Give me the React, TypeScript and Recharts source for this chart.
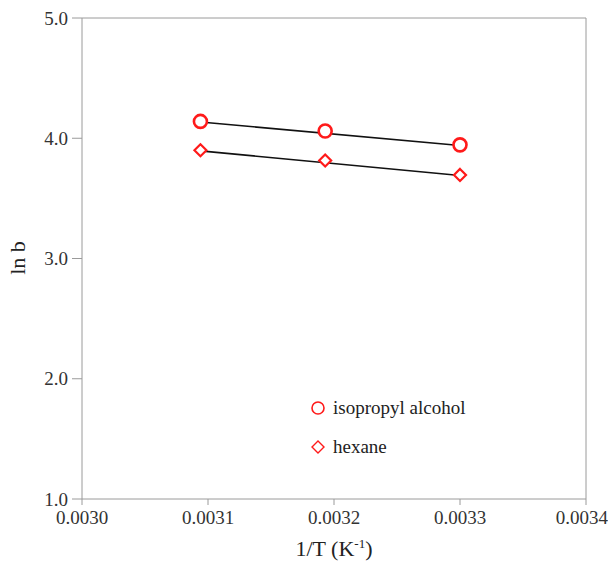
import { ScatterChart, Scatter, XAxis, YAxis, ReferenceLine } from 'recharts';

const invT = [0.003094, 0.003193, 0.0033];
const isopropylLnB = [4.14, 4.06, 3.945];
const hexaneLnB = [3.90, 3.815, 3.695];

// straight fitted lines, end points
const fitX = [0.003094, 0.0033];
const isopropylFit = [4.135, 3.94];
const hexaneFit = [3.895, 3.69];

const xTicks = [0.003, 0.0031, 0.0032, 0.0033, 0.0034];
const yTicks = [1, 2, 3, 4, 5];

const RED = '#ff1a1a';
const AXIS = '#9a9a9a';
const FONT = '"Liberation Serif", "Times New Roman", serif';

const toPoints = (xs: number[], ys: number[]) => xs.map((x, i) => ({ x, y: ys[i] }));

const Circle = (props: any) => {
  const { cx, cy } = props;
  return <circle cx={cx} cy={cy} r={6.5} fill="#fff" stroke={RED} strokeWidth={2.6} />;
};

const Diamond = (props: any) => {
  const { cx, cy } = props;
  const s = 6;
  return (
    <path
      d={`M${cx},${cy - s} L${cx + s},${cy} L${cx},${cy + s} L${cx - s},${cy} Z`}
      fill="#fff"
      stroke={RED}
      strokeWidth={2.2}
    />
  );
};

const NoDot = () => <g />;

export default function App() {
  return (
    <div style={{ position: 'absolute', left: 0, top: 0, width: 608, height: 566, background: '#fff', fontFamily: FONT }}>
      <ScatterChart width={608} height={566} margin={{ top: 18, right: 22, left: 0, bottom: 7 }}>
        <XAxis
          type="number"
          dataKey="x"
          domain={[0.003, 0.0034]}
          ticks={xTicks}
          tickFormatter={(v: number) => v.toFixed(4)}
          stroke={AXIS}
          tickSize={6}
          tickMargin={6}
          height={60}
          tick={{ fill: '#333', fontSize: 19, fontFamily: FONT }}
        />
        <YAxis
          type="number"
          dataKey="y"
          domain={[1, 5]}
          ticks={yTicks}
          tickFormatter={(v: number) => v.toFixed(1)}
          stroke={AXIS}
          tickSize={10}
          tickMargin={4}
          width={82}
          tick={{ fill: '#333', fontSize: 19, fontFamily: FONT }}
        />
        <ReferenceLine y={5} stroke={AXIS} strokeWidth={1} />
        <ReferenceLine x={0.0034} stroke={AXIS} strokeWidth={1} />
        <Scatter data={toPoints(fitX, isopropylFit)} line={{ stroke: '#111', strokeWidth: 1.6 }} shape={NoDot} isAnimationActive={false} />
        <Scatter data={toPoints(fitX, hexaneFit)} line={{ stroke: '#111', strokeWidth: 1.6 }} shape={NoDot} isAnimationActive={false} />
        <Scatter name="isopropyl alcohol" data={toPoints(invT, isopropylLnB)} shape={Circle} isAnimationActive={false} />
        <Scatter name="hexane" data={toPoints(invT, hexaneLnB)} shape={Diamond} isAnimationActive={false} />
      </ScatterChart>

      <div style={{ position: 'absolute', left: 274, top: 536, width: 120, textAlign: 'center', fontSize: 22, color: '#222' }}>
        1/T (K<sup style={{ fontSize: 13 }}>-1</sup>)
      </div>
      <div
        style={{
          position: 'absolute',
          left: -7,
          top: 245,
          width: 50,
          textAlign: 'center',
          fontSize: 22,
          color: '#222',
          transform: 'rotate(-90deg)',
        }}
      >
        ln b
      </div>

      <div style={{ position: 'absolute', left: 309, top: 396, fontSize: 19, color: '#222', lineHeight: '24px' }}>
        <div style={{ display: 'flex', alignItems: 'center', height: 24 }}>
          <svg width={18} height={18} style={{ marginRight: 6 }}>
            <circle cx={9} cy={9} r={6} fill="#fff" stroke={RED} strokeWidth={1.6} />
          </svg>
          isopropyl alcohol
        </div>
        <div style={{ display: 'flex', alignItems: 'center', height: 24, marginTop: 15 }}>
          <svg width={18} height={18} style={{ marginRight: 6 }}>
            <path d="M9,3 L15,9 L9,15 L3,9 Z" fill="#fff" stroke={RED} strokeWidth={1.4} />
          </svg>
          hexane
        </div>
      </div>
    </div>
  );
}
